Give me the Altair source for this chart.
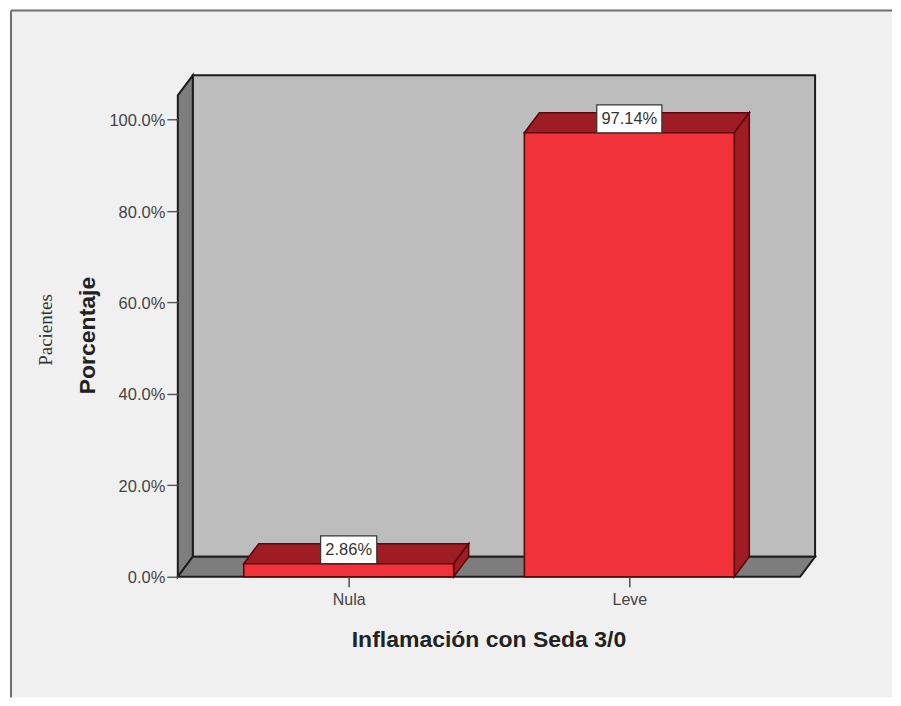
import altair as alt
import pandas as pd

categories = ["Nula", "Leve"]
values = [0.0286, 0.9714]
labels = ["2.86%", "97.14%"]
y_ticks = [0, 0.2, 0.4, 0.6, 0.8, 1.0]

# plot scale: category index on x, share on y
X_DOM = [-0.609, 1.662]
Y_DOM = [0, 1.097]
W, H = 638, 502
DX = 0.0534      # depth of the pseudo-3D offset
DY = 0.0437
HALF = 0.374     # half a bar's width
X0, X1 = X_DOM[0], X_DOM[1] - DX
WALL_TOP = Y_DOM[1] - DY
BOX_H = 0.061
BOX_HALF = [0.1, 0.116]
FONT = "Liberation Sans"

xs = alt.Scale(domain=X_DOM, nice=False, zero=False)
ys = alt.Scale(domain=Y_DOM, nice=False, zero=False)
xa = alt.Axis(
    values=[0, 1], labelExpr=f"{categories}[datum.value]", grid=False, domain=False,
    tickColor="#444444", tickSize=10, tickWidth=1.4,
    labelFont=FONT, labelFontSize=16, labelColor="#444444", labelPadding=5,
    title="Inflamación con Seda 3/0", titleFont=FONT, titleFontSize=23,
    titleFontWeight="bold", titleColor="#222222", titleX=311, titleY=52,
    zindex=1)
ya = alt.Axis(
    values=y_ticks, format=".1%", grid=False, domain=False,
    tickColor="#555555", tickSize=11, tickWidth=1.4,
    labelFont=FONT, labelFontSize=16.5, labelColor="#444444", labelPadding=2,
    labelOffset=1,
    title="Porcentaje", titleFont=FONT, titleFontSize=23,
    titleFontWeight="bold", titleColor="#222222", titleX=-78, titleY=260,
    zindex=1)


def poly(points, **style):
    df = pd.DataFrame(points, columns=["x", "lo", "hi"])
    return alt.Chart(df).mark_area(**style).encode(
        x=alt.X("x:Q", scale=xs, axis=xa),
        y=alt.Y("lo:Q", scale=ys, axis=ya, stack=None),
        y2="hi:Q",
    )


def upright(x_left, low, high, **style):
    """Side face: a parallelogram receding to the back right."""
    return poly([(x_left, low, high), (x_left + DX, low + DY, high + DY)], **style)


def flat(x_left, x_right, level, **style):
    """Floor or top face: a parallelogram receding to the back."""
    return poly([
        (x_left, level, level),
        (x_left + DX, level, level + DY),
        (x_right, level, level + DY),
        (x_right + DX, level + DY, level + DY),
    ], **style)


def box(x_a, x_b, y_a, y_b, **style):
    return alt.Chart(anchor).mark_rect(**style).encode(
        x=alt.datum(x_a, scale=xs, axis=xa), x2=alt.datum(x_b),
        y=alt.datum(y_a, scale=ys, axis=ya), y2=alt.datum(y_b))


WALL_EDGE = dict(stroke="#1c1c1c", strokeWidth=2, strokeJoin="miter")
BAR_EDGE = dict(stroke="#5e0509", strokeWidth=1.6, strokeJoin="miter")

anchor = pd.DataFrame({"v": [0]})

panel = alt.Chart(anchor).mark_rect(color="#f0f0f0").encode(
    x=alt.value(-167), x2=alt.value(715), y=alt.value(-65), y2=alt.value(623))
frame_top = alt.Chart(anchor).mark_rule(color="#6e6e6e", strokeWidth=2).encode(
    x=alt.value(-167), x2=alt.value(715), y=alt.value(-65))
frame_left = alt.Chart(anchor).mark_rule(color="#6e6e6e", strokeWidth=2).encode(
    x=alt.value(-167), y=alt.value(-65), y2=alt.value(623))

pacientes = alt.Chart(anchor).mark_text(
    text="Pacientes", font="Liberation Serif", fontSize=19, angle=270,
    color="#333333", baseline="middle", align="center",
).encode(x=alt.value(-132), y=alt.value(255))

layers = [
    panel, frame_top, frame_left,
    box(X0 + DX, X1 + DX, DY, WALL_TOP + DY, color="#bdbdbd", **WALL_EDGE),
    upright(X0, 0, WALL_TOP, color="#7d7d7d", **WALL_EDGE),
    flat(X0, X1, 0, color="#7d7d7d", **WALL_EDGE),
]

for i, v in enumerate(values):
    left, right = i - HALF, i + HALF
    layers += [
        flat(left, right, v, color="#9e1d24", **BAR_EDGE),
        upright(right, 0, v, color="#9e1d24", **BAR_EDGE),
        box(left, right, 0, v, color="#f1323a", **BAR_EDGE),
        box(i - BOX_HALF[i], i + BOX_HALF[i], v, v + BOX_H,
            color="#ffffff", stroke="#333333", strokeWidth=1.2),
        alt.Chart(anchor).mark_text(
            text=labels[i], font=FONT, fontSize=16.5, color="#333333",
            align="center", baseline="middle",
        ).encode(
            x=alt.datum(i, scale=xs, axis=xa),
            y=alt.datum(v + BOX_H / 2, scale=ys, axis=ya)),
    ]

chart = alt.layer(*layers, pacientes).properties(
    width=W, height=H, background="#ffffff",
    padding={"left": 2, "top": 1, "right": 0, "bottom": 0},
).configure_view(stroke=None)

chart.save("out.html", embed_options={"renderer": "svg", "actions": False})
